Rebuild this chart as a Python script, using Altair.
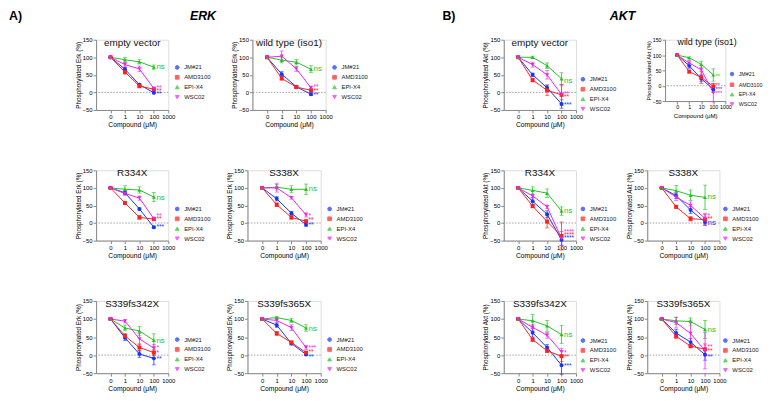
import altair as alt
import pandas as pd

FONT = "Liberation Sans"
SERIES = ["JM#21", "AMD3100", "EPI-X4", "WSC02"]
COLORS = ["#1235ff", "#ff2020", "#1fc41f", "#ee22ee"]
SHAPES = ["circle", "square", "triangle-up", "triangle-down"]
DOSES = [0, 1, 10, 100]          # µM ; 0 is drawn at the axis position labelled "0"
ZERO_POS = 0.1
X_TICKS = [0.1, 1, 10, 100, 1000]
Y_TICKS = [-50, 0, 50, 100, 150]

# ---- ERK (means, doses 0 / 1 / 10 / 100 µM) ----
erk_empty = {"JM#21": [100, 66, 22, -1], "AMD3100": [100, 58, 18, 9],
             "EPI-X4": [100, 93, 87, 72], "WSC02": [100, 79, 67, 11]}
erk_wt = {"JM#21": [100, 52, 16, -5], "AMD3100": [100, 40, 15, 6],
          "EPI-X4": [100, 92, 86, 66], "WSC02": [100, 103, 67, 13]}
erk_r334x = {"JM#21": [100, 86, 40, -12], "AMD3100": [100, 57, 16, 11],
             "EPI-X4": [100, 96, 94, 74], "WSC02": [100, 84, 71, 12]}
erk_s338x = {"JM#21": [100, 69, 28, -5], "AMD3100": [100, 52, 16, 5],
             "EPI-X4": [100, 102, 96, 96], "WSC02": [100, 100, 72, 23]}
erk_342x = {"JM#21": [100, 48, 3, -9], "AMD3100": [100, 53, 21, 7],
            "EPI-X4": [100, 75, 67, 41], "WSC02": [100, 94, 45, 19]}
erk_365x = {"JM#21": [100, 83, 32, 2], "AMD3100": [100, 60, 35, 7],
            "EPI-X4": [100, 104, 96, 75], "WSC02": [100, 96, 76, 21]}

# ---- AKT ----
akt_empty = {"JM#21": [100, 50, 13, -33], "AMD3100": [100, 35, 6, -7],
             "EPI-X4": [100, 100, 76, 39], "WSC02": [100, 79, 50, -6]}
akt_wt = {"JM#21": [100, 65, 23, -12], "AMD3100": [100, 46, 27, -2],
          "EPI-X4": [100, 91, 70, 35], "WSC02": [100, 74, 52, -23]}
akt_r334x = {"JM#21": [100, 62, 25, -48], "AMD3100": [100, 48, 4, -37],
             "EPI-X4": [100, 93, 85, 34], "WSC02": [100, 77, 46, -44]}
akt_s338x = {"JM#21": [100, 78, 37, 3], "AMD3100": [100, 46, 12, 10],
             "EPI-X4": [100, 92, 79, 73], "WSC02": [100, 74, 50, 13]}
akt_342x = {"JM#21": [100, 62, 21, -28], "AMD3100": [100, 43, 12, -3],
            "EPI-X4": [100, 95, 81, 57], "WSC02": [100, 77, 55, 9]}
akt_365x = {"JM#21": [100, 61, 36, 1], "AMD3100": [100, 52, 25, 16],
            "EPI-X4": [100, 95, 93, 71], "WSC02": [100, 90, 60, 12]}

# ---- error bars (± SEM) ----
erk_empty_err = {"JM#21": [0, 5, 4, 3], "AMD3100": [0, 6, 5, 3], "EPI-X4": [0, 7, 6, 6], "WSC02": [0, 6, 8, 4]}
erk_wt_err = {"JM#21": [0, 7, 3, 4], "AMD3100": [0, 5, 3, 3], "EPI-X4": [0, 8, 8, 10], "WSC02": [0, 15, 7, 5]}
erk_r334x_err = {"JM#21": [0, 5, 3, 3], "AMD3100": [0, 3, 5, 4], "EPI-X4": [0, 10, 9, 13], "WSC02": [0, 5, 6, 5]}
erk_s338x_err = {"JM#21": [0, 6, 5, 4], "AMD3100": [0, 5, 5, 4], "EPI-X4": [0, 8, 10, 15], "WSC02": [0, 12, 4, 6]}
erk_342x_err = {"JM#21": [0, 8, 10, 18], "AMD3100": [0, 7, 10, 8], "EPI-X4": [0, 8, 12, 18], "WSC02": [0, 5, 15, 10]}
erk_365x_err = {"JM#21": [0, 6, 4, 3], "AMD3100": [0, 5, 4, 3], "EPI-X4": [0, 3, 5, 9], "WSC02": [0, 5, 8, 5]}
akt_empty_err = {"JM#21": [0, 5, 8, 12], "AMD3100": [0, 5, 15, 30], "EPI-X4": [0, 3, 8, 17], "WSC02": [0, 7, 12, 25]}
akt_wt_err = {"JM#21": [0, 8, 10, 10], "AMD3100": [0, 5, 20, 10], "EPI-X4": [0, 3, 10, 20], "WSC02": [0, 8, 15, 30]}
akt_r334x_err = {"JM#21": [0, 10, 10, 15], "AMD3100": [0, 4, 18, 40], "EPI-X4": [0, 10, 12, 12], "WSC02": [0, 5, 5, 20]}
akt_s338x_err = {"JM#21": [0, 8, 10, 10], "AMD3100": [0, 4, 6, 15], "EPI-X4": [0, 15, 15, 35], "WSC02": [0, 10, 10, 15]}
akt_342x_err = {"JM#21": [0, 12, 8, 25], "AMD3100": [0, 5, 5, 15], "EPI-X4": [0, 18, 15, 25], "WSC02": [0, 8, 8, 10]}
akt_365x_err = {"JM#21": [0, 10, 10, 15], "AMD3100": [0, 5, 5, 15], "EPI-X4": [0, 10, 10, 25], "WSC02": [0, 15, 35, 50]}

# ---- significance labels at 100 µM (SERIES order) and their heights ----
erk_empty_sig, erk_empty_sig_y = ["**", "**", "ns", "**"], [-6, 4, 72, 12]
erk_wt_sig, erk_wt_sig_y = ["**", "**", "ns", "**"], [-8, 5, 66, 15]
erk_r334x_sig, erk_r334x_sig_y = ["***", "**", "ns", "**"], [-11, 11, 72, 20]
erk_s338x_sig, erk_s338x_sig_y = ["**", "**", "ns", "*"], [-6, 9, 96, 20]
erk_342x_sig, erk_342x_sig_y = ["**", "*", "ns", "*"], [-10, 7, 40, 19]
erk_365x_sig, erk_365x_sig_y = ["**", "**", "ns", "***"], [-4, 9, 73, 20]
akt_empty_sig, akt_empty_sig_y = ["***", "**", "ns", "**"], [-35, -14, 33, -4]
akt_wt_sig, akt_wt_sig_y = ["***", "**", "**", "***"], [-12, 1, 33, -25]
akt_r334x_sig, akt_r334x_sig_y = ["****", "****", "ns", "****"], [-44, -35, 34, -26]
akt_s338x_sig, akt_s338x_sig_y = ["ns", "**", "ns", "*"], [1, 10, 74, 19]
akt_342x_sig, akt_342x_sig_y = ["***", "**", "ns", "*"], [-30, -4, 57, 7]
akt_365x_sig, akt_365x_sig_y = ["**", "**", "ns", "**"], [-6, 12, 70, 22]

SIG_X = 150


def panel(title, readout, vals, errs, sig, sig_y, w=73, h=71, leg_y=36, leg_dx=6,
          fs=1.0, title_dx=0, headers=None):
    rows = []
    for s in SERIES:
        for d, v, e in zip(DOSES, vals[s], errs[s]):
            rows.append({"series": s, "pos": ZERO_POS if d == 0 else d,
                         "val": v, "lo": v - e, "hi": v + e})
    df = pd.DataFrame(rows)
    sdf = pd.DataFrame({"series": SERIES, "label": sig, "sy": sig_y, "sx": [SIG_X] * 4,
                        "fsz": [8 * fs if l == "ns" else 6.5 * fs for l in sig]})

    xsc = alt.Scale(type="log", domain=[0.01, 1000], nice=False)
    ysc = alt.Scale(domain=[-50, 150], nice=False)
    xax = alt.Axis(values=X_TICKS, title="Compound (μM)",
                   labelExpr="datum.value < 0.5 ? '0' : format(datum.value, 'd')",
                   labelFontSize=6 * fs, titleFontSize=6.8 * fs, titleFontWeight="normal",
                   tickSize=3, labelPadding=1, titlePadding=2, grid=False, labelFlush=False)
    yax = alt.Axis(values=Y_TICKS, title=f"Phosphorylated {readout} (%)",
                   labelFontSize=6 * fs, titleFontSize=6.4 * fs, titleFontWeight="normal",
                   tickSize=3, labelPadding=1, titlePadding=1, grid=False)
    leg = alt.Legend(title=None, orient="none", legendX=w + leg_dx, legendY=leg_y,
                     labelFontSize=6 * fs, symbolSize=14 * fs, rowPadding=2 * fs,
                     labelOffset=4, padding=0, symbolStrokeWidth=1, labelColor="#222")
    color = alt.Color("series:N", scale=alt.Scale(domain=SERIES, range=COLORS), legend=leg)
    shape = alt.Shape("series:N", scale=alt.Scale(domain=SERIES, range=SHAPES), legend=leg)
    x = alt.X("pos:Q", scale=xsc, axis=xax)
    y = alt.Y("val:Q", scale=ysc, axis=yax)

    base = alt.Chart(df)
    zero = alt.Chart(pd.DataFrame({"z": [0]})).mark_rule(
        color="#8a8a8a", strokeDash=[1.5, 1.5], strokeWidth=0.8).encode(
        y=alt.Y("z:Q", scale=ysc, axis=yax))
    err = base.mark_errorbar(ticks={"size": 4}, thickness=0.8).encode(
        x=x, y=alt.Y("lo:Q", scale=ysc, axis=yax), y2="hi:Q", color=color)
    line = base.mark_line(strokeWidth=1).encode(x=x, y=y, color=color)
    pts = base.mark_point(filled=True, size=16 * fs, opacity=1).encode(x=x, y=y, color=color, shape=shape)
    txt = alt.Chart(sdf).mark_text(align="left", baseline="middle", font=FONT).encode(
        x=alt.X("sx:Q", scale=xsc, axis=xax), y=alt.Y("sy:Q", scale=ysc, axis=yax),
        text="label:N", size=alt.Size("fsz:Q", scale=None, legend=None),
        color=alt.Color("series:N", scale=alt.Scale(domain=SERIES, range=COLORS), legend=None))
    ttl = alt.Chart(pd.DataFrame({"t": [title]})).mark_text(
        fontSize=10 * fs, baseline="top", align="center", font=FONT, color="#111").encode(
        x=alt.value(w / 2 + title_dx), y=alt.value(-2), text="t:N")
    layers = [zero, err, line, pts, txt, ttl]
    if headers:
        for (t, hx, hy, al, style) in headers:
            layers.append(alt.Chart(pd.DataFrame({"t": [t]})).mark_text(
                fontSize=12.5, fontWeight="bold", fontStyle=style, align=al, baseline="middle",
                font=FONT, color="#000").encode(x=alt.value(hx), y=alt.value(hy), text="t:N"))
    return alt.layer(*layers).properties(width=w, height=h)


def ind(c):
    return c.resolve_scale(color="independent", shape="independent", size="independent",
                           x="independent", y="independent").resolve_legend(
        color="independent", shape="independent")


erk_rows = [
    ind(alt.hconcat(
        panel("empty vector", "Erk", erk_empty, erk_empty_err, erk_empty_sig, erk_empty_sig_y, leg_y=25,
              headers=[("A)", -88, -24, "left", "normal"), ("ERK", 108, -24, "center", "italic")]),
        panel("wild type (iso1)", "Erk", erk_wt, erk_wt_err, erk_wt_sig, erk_wt_sig_y, w=74, leg_y=25),
        spacing=14)),
    ind(alt.hconcat(
        panel("R334X", "Erk", erk_r334x, erk_r334x_err, erk_r334x_sig, erk_r334x_sig_y),
        panel("S338X", "Erk", erk_s338x, erk_s338x_err, erk_s338x_sig, erk_s338x_sig_y, w=74),
        spacing=14)),
    ind(alt.hconcat(
        panel("S339fs342X", "Erk", erk_342x, erk_342x_err, erk_342x_sig, erk_342x_sig_y, h=73),
        panel("S339fs365X", "Erk", erk_365x, erk_365x_err, erk_365x_sig, erk_365x_sig_y, w=74, h=73),
        spacing=14)),
]
akt_rows = [
    ind(alt.hconcat(
        panel("empty vector", "Akt", akt_empty, akt_empty_err, akt_empty_sig, akt_empty_sig_y,
              leg_y=37, leg_dx=4,
              headers=[("B)", -62, -24, "left", "normal"), ("AKT", 120, -24, "center", "italic")]),
        panel("wild type (iso1)", "Akt", akt_wt, akt_wt_err, akt_wt_sig, akt_wt_sig_y, w=61, h=62,
              leg_y=32, leg_dx=4, fs=0.9, title_dx=12),
        spacing=8)),
    ind(alt.hconcat(
        panel("R334X", "Akt", akt_r334x, akt_r334x_err, akt_r334x_sig, akt_r334x_sig_y, leg_dx=4),
        panel("S338X", "Akt", akt_s338x, akt_s338x_err, akt_s338x_sig, akt_s338x_sig_y, leg_dx=3),
        spacing=8)),
    ind(alt.hconcat(
        panel("S339fs342X", "Akt", akt_342x, akt_342x_err, akt_342x_sig, akt_342x_sig_y, h=73,
              leg_y=37, leg_dx=4),
        panel("S339fs365X", "Akt", akt_365x, akt_365x_err, akt_365x_sig, akt_365x_sig_y, h=73,
              leg_y=37, leg_dx=3),
        spacing=8)),
]

erk_group = ind(alt.vconcat(*erk_rows, spacing=37))
akt_group = ind(alt.vconcat(*akt_rows, spacing=37))

chart = ind(alt.hconcat(erk_group, akt_group, spacing=73)).properties(
    padding={"left": 0, "top": -1, "right": 0, "bottom": 0}
).configure_view(stroke=None).configure_axis(
    domainColor="#000", tickColor="#000", labelColor="#222", titleColor="#111",
    labelFont=FONT, titleFont=FONT, titleFontWeight="normal", domainWidth=0.8, tickWidth=0.8
).configure_legend(labelFont=FONT).configure(background="white")

chart.save("out.html", embed_options={"renderer": "svg", "actions": False})
